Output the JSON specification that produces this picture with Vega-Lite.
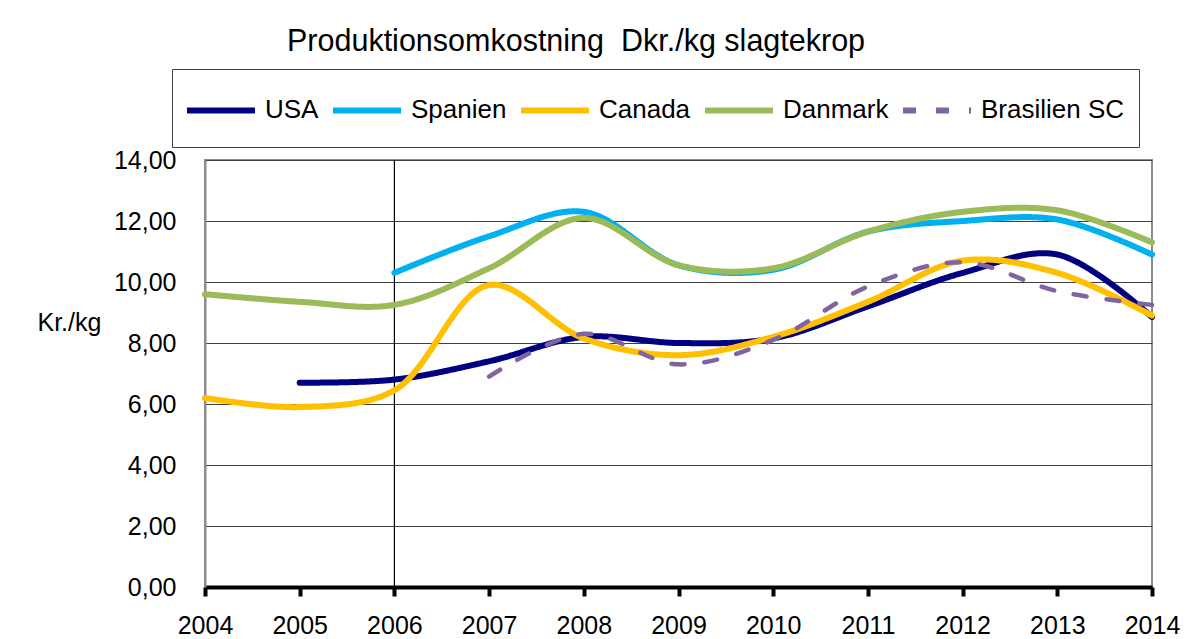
{
  "$schema": "https://vega.github.io/schema/vega-lite/v6.json",
  "width": 947,
  "height": 427,
  "autosize": {"type": "none"},
  "padding": {"left": 205, "top": 160, "right": 46, "bottom": 51},
  "background": "white",
  "title": {
    "text": "Produktionsomkostning\u00a0 Dkr./kg slagtekrop",
    "anchor": "start",
    "frame": "group",
    "dx": 82,
    "offset": 11,
    "fontSize": 30.5,
    "fontWeight": "normal",
    "color": "black",
    "font": "Liberation Sans"
  },
  "datasets": {
    "costs": [
      {"country": "USA", "year": 2005, "value": 6.7},
      {"country": "USA", "year": 2006, "value": 6.8},
      {"country": "USA", "year": 2007, "value": 7.4},
      {"country": "USA", "year": 2008, "value": 8.2},
      {"country": "USA", "year": 2009, "value": 8.0},
      {"country": "USA", "year": 2010, "value": 8.15},
      {"country": "USA", "year": 2011, "value": 9.2},
      {"country": "USA", "year": 2012, "value": 10.3},
      {"country": "USA", "year": 2013, "value": 10.9},
      {"country": "USA", "year": 2014, "value": 8.85},
      {"country": "Spanien", "year": 2006, "value": 10.3},
      {"country": "Spanien", "year": 2007, "value": 11.5},
      {"country": "Spanien", "year": 2008, "value": 12.3},
      {"country": "Spanien", "year": 2009, "value": 10.55},
      {"country": "Spanien", "year": 2010, "value": 10.4},
      {"country": "Spanien", "year": 2011, "value": 11.65},
      {"country": "Spanien", "year": 2012, "value": 12.0},
      {"country": "Spanien", "year": 2013, "value": 12.05},
      {"country": "Spanien", "year": 2014, "value": 10.9},
      {"country": "Canada", "year": 2004, "value": 6.2},
      {"country": "Canada", "year": 2005, "value": 5.9},
      {"country": "Canada", "year": 2006, "value": 6.45},
      {"country": "Canada", "year": 2007, "value": 9.9},
      {"country": "Canada", "year": 2008, "value": 8.15},
      {"country": "Canada", "year": 2009, "value": 7.6},
      {"country": "Canada", "year": 2010, "value": 8.2},
      {"country": "Canada", "year": 2011, "value": 9.35},
      {"country": "Canada", "year": 2012, "value": 10.7},
      {"country": "Canada", "year": 2013, "value": 10.3},
      {"country": "Canada", "year": 2014, "value": 8.9},
      {"country": "Danmark", "year": 2004, "value": 9.6},
      {"country": "Danmark", "year": 2005, "value": 9.35},
      {"country": "Danmark", "year": 2006, "value": 9.25},
      {"country": "Danmark", "year": 2007, "value": 10.45},
      {"country": "Danmark", "year": 2008, "value": 12.1},
      {"country": "Danmark", "year": 2009, "value": 10.55},
      {"country": "Danmark", "year": 2010, "value": 10.45},
      {"country": "Danmark", "year": 2011, "value": 11.65},
      {"country": "Danmark", "year": 2012, "value": 12.3},
      {"country": "Danmark", "year": 2013, "value": 12.35},
      {"country": "Danmark", "year": 2014, "value": 11.3},
      {"country": "Brasilien SC", "year": 2007, "value": 6.9},
      {"country": "Brasilien SC", "year": 2008, "value": 8.3},
      {"country": "Brasilien SC", "year": 2009, "value": 7.3},
      {"country": "Brasilien SC", "year": 2010, "value": 8.1},
      {"country": "Brasilien SC", "year": 2011, "value": 9.85},
      {"country": "Brasilien SC", "year": 2012, "value": 10.65},
      {"country": "Brasilien SC", "year": 2013, "value": 9.7},
      {"country": "Brasilien SC", "year": 2014, "value": 9.25}
    ]
  },
  "layer": [
    {
      "data": {"values": [{"year": 2006}]},
      "mark": {"type": "rule", "color": "black", "strokeWidth": 1.2},
      "encoding": {
        "x": {"field": "year", "type": "quantitative"}
      }
    },
    {
      "data": {"name": "costs"},
      "mark": {"type": "line", "interpolate": "catmull-rom", "strokeCap": "round", "strokeJoin": "round"},
      "encoding": {
        "x": {
          "field": "year",
          "type": "quantitative",
          "scale": {"domain": [2004, 2014], "nice": false, "zero": false},
          "axis": {
            "title": null,
            "values": [2004, 2005, 2006, 2007, 2008, 2009, 2010, 2011, 2012, 2013, 2014],
            "format": "d",
            "grid": false,
            "domainColor": "black",
            "domainWidth": 4,
            "tickColor": "black",
            "tickWidth": 4,
            "tickSize": 9,
            "labelFontSize": 25,
            "labelColor": "black",
            "labelPadding": 17,
            "labelFlush": false
          }
        },
        "y": {
          "field": "value",
          "type": "quantitative",
          "scale": {"domain": [0, 14], "nice": false},
          "axis": {
            "values": [0, 2, 4, 6, 8, 10, 12, 14],
            "labelExpr": "replace(format(datum.value, '.2f'), '.', ',')",
            "title": "Kr./kg",
            "titleAngle": 0,
            "titleX": -168,
            "titleY": 162,
            "titleAlign": "left",
            "titleBaseline": "middle",
            "titleFontSize": 25,
            "titleFontWeight": "normal",
            "titleColor": "black",
            "ticks": false,
            "tickSize": 0,
            "labelPadding": 29,
            "labelFontSize": 25,
            "labelColor": "black",
            "domainColor": "#8c8c8c",
            "domainWidth": 2,
            "grid": true,
            "gridColor": "#404040",
            "gridWidth": 1.2,
            "gridOpacity": 1
          }
        },
        "color": {
          "field": "country",
          "type": "nominal",
          "sort": ["USA", "Spanien", "Canada", "Danmark", "Brasilien SC"],
          "scale": {
            "domain": ["USA", "Spanien", "Canada", "Danmark", "Brasilien SC"],
            "range": ["#000080", "#00B0F0", "#FFC000", "#9BBB59", "#8064A2"]
          },
          "legend": {"title": null}
        },
        "strokeDash": {
          "field": "country",
          "type": "nominal",
          "sort": ["USA", "Spanien", "Canada", "Danmark", "Brasilien SC"],
          "scale": {
            "domain": ["USA", "Spanien", "Canada", "Danmark", "Brasilien SC"],
            "range": [[1, 0], [1, 0], [1, 0], [1, 0], [13, 20]]
          },
          "legend": {"title": null}
        },
        "strokeWidth": {
          "condition": {"test": "datum.country === 'Brasilien SC'", "value": 4.5},
          "value": 6
        }
      }
    }
  ],
  "config": {
    "font": "Liberation Sans",
    "view": {"stroke": "#8c8c8c", "strokeWidth": 2},
    "legend": {
      "orient": "none",
      "legendX": -33,
      "legendY": -91,
      "direction": "horizontal",
      "columns": 5,
      "strokeColor": "#404040",
      "fillColor": "white",
      "padding": 14,
      "symbolType": "M0,-1M-1.4167,0H1.4167M0,0.42",
      "symbolSize": 2304,
      "symbolOffset": 8,
      "symbolStrokeWidth": 6,
      "labelFontSize": 26,
      "labelColor": "black",
      "labelOffset": 17,
      "columnPadding": 1,
      "labelLimit": 300
    }
  }
}
